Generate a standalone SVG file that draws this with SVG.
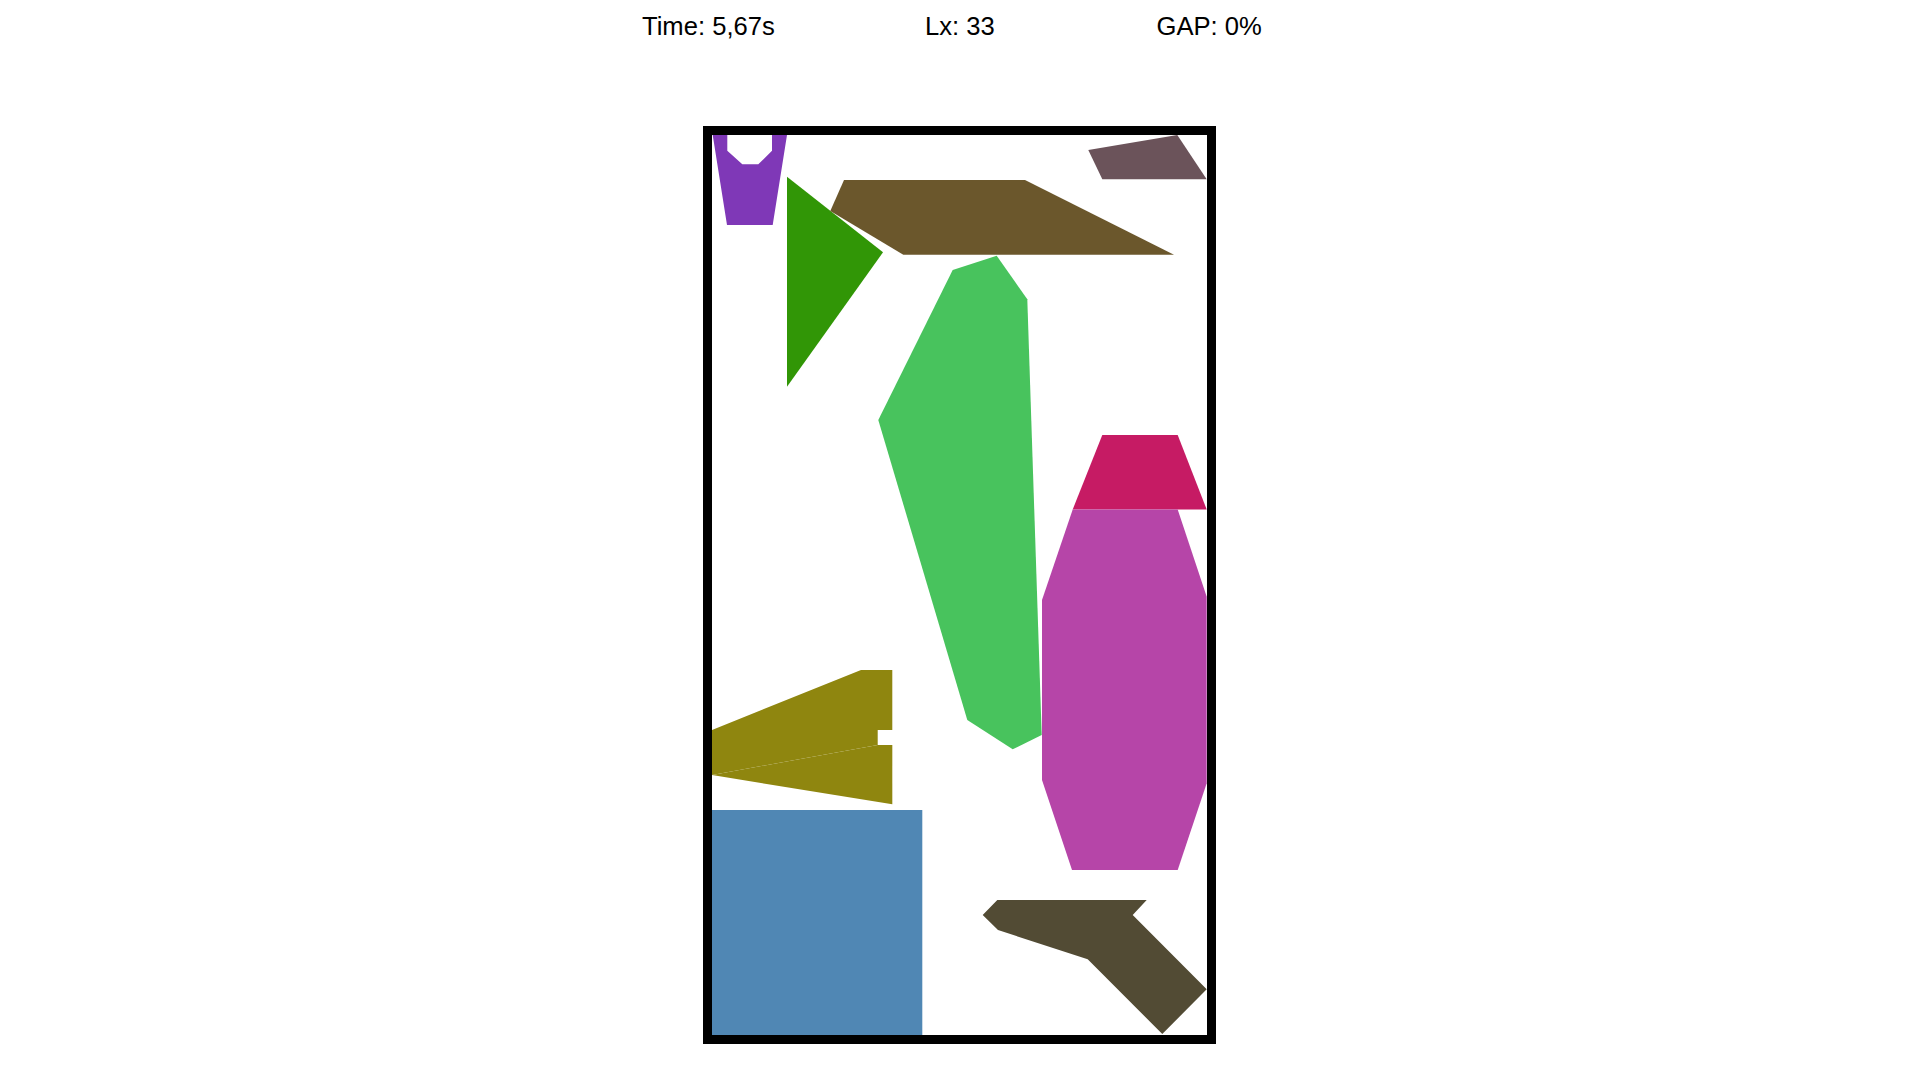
<svg xmlns="http://www.w3.org/2000/svg" width="1920" height="1080" viewBox="0 0 1920 1080">
<style>
.lbl{font-family:"Liberation Sans",Arial,sans-serif;font-size:25.6px;fill:#000}
</style>
<rect x="0" y="0" width="1920" height="1080" fill="#fff"/>
<g id="header">
<text class="lbl" x="642" y="35">Time: 5,67s</text>
<text class="lbl" x="925" y="35">Lx: 33</text>
<text class="lbl" x="1156.5" y="35">GAP: 0%</text>
</g>
<g id="container">
<rect x="707.5" y="130.5" width="504" height="909" fill="none" stroke="#000" stroke-width="9"/>
</g>
<g id="pieces">
<polygon id="p-purple" fill="#7f38b7" points="712.7,135 727.3,135 727.3,150.7 742.3,164.3 758.3,164.3 772,150.7 772,135 787,135 772.7,225 727,225"/>
<polygon id="p-darkgreen" fill="#319606" points="787,176.7 883,252.3 787,386.7"/>
<polygon id="p-brown" fill="#6b572c" points="844,180 1025,180 1174,254.7 903.3,254.7 830.3,211"/>
<polygon id="p-mauve" fill="#6b535a" points="1088.3,150 1177.3,135 1206.7,179.3 1102.3,179.3"/>
<polygon id="p-lightgreen" fill="#48c35d" points="952.7,270 996.7,255.7 1027.3,299.3 1041.7,735 1012.7,749.3 967.3,720 878.3,420"/>
<polygon id="p-red" fill="#c61b64" points="1102.3,435 1177.7,435 1206.7,509.5 1072.7,509.5"/>
<polygon id="p-magenta" fill="#b645a8" points="1072.7,509.5 1177.7,509.5 1206.7,596.7 1206.7,783.3 1177.7,870 1072,870 1042,780 1042,600"/>
<g id="p-olive" fill="#8f860f">
<polygon points="712,730 861,670 892.3,670 892.3,730 877.7,730 877.7,745 712,775"/>
<polygon points="712,775 877.7,745 892.3,745 892.3,804.3"/>
</g>
<rect id="p-blue" x="712" y="810" width="210.3" height="225" fill="#5087b4"/>
<polygon id="p-darkolive" fill="#524b34" points="982.7,915 997.3,900 1146.7,900 1132.7,915 1206.7,989.3 1162.3,1034 1087.7,959.3 998,930"/>
</g>
<g id="connectors"/>
</svg>
